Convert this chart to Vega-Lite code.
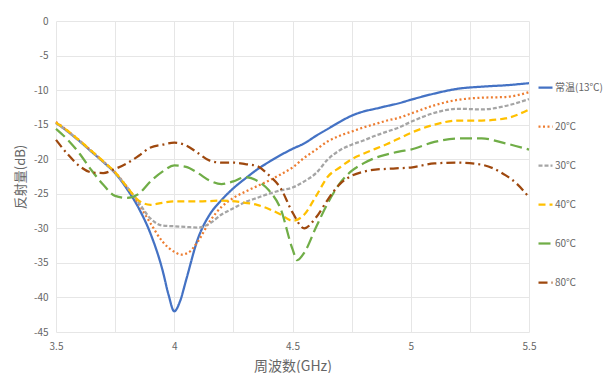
{
  "$schema": "https://vega.github.io/schema/vega-lite/v6.json",
  "autosize": "none",
  "width": 473,
  "height": 311,
  "padding": {"left": 56, "top": 21, "right": 76, "bottom": 41},
  "background": "#ffffff",
  "config": {
    "font": "Noto Sans CJK SC",
    "view": {"stroke": null},
    "axis": {"labelColor": "#666666", "titleColor": "#666666", "gridColor": "#E6E6E6", "gridWidth": 1, "domain": false, "ticks": false, "labelFontSize": 10, "titleFontSize": 14, "titleFontWeight": "normal"}
  },
  "datasets": {
    "d": [
      {"s": "常温(13℃)", "f": 3.5, "v": -14.7}, {"s": "常温(13℃)", "f": 3.55, "v": -16.0}, {"s": "常温(13℃)", "f": 3.6, "v": -17.4}, {"s": "常温(13℃)", "f": 3.65, "v": -18.9}, {"s": "常温(13℃)", "f": 3.7, "v": -20.4}, {"s": "常温(13℃)", "f": 3.75, "v": -22.0}, {"s": "常温(13℃)", "f": 3.8, "v": -24.3}, {"s": "常温(13℃)", "f": 3.85, "v": -27.1}, {"s": "常温(13℃)", "f": 3.9, "v": -30.8}, {"s": "常温(13℃)", "f": 3.95, "v": -36.0}, {"s": "常温(13℃)", "f": 3.975, "v": -39.5}, {"s": "常温(13℃)", "f": 4.0, "v": -42.0}, {"s": "常温(13℃)", "f": 4.025, "v": -40.5}, {"s": "常温(13℃)", "f": 4.05, "v": -37.5}, {"s": "常温(13℃)", "f": 4.1, "v": -31.5}, {"s": "常温(13℃)", "f": 4.15, "v": -28.0}, {"s": "常温(13℃)", "f": 4.2, "v": -25.9}, {"s": "常温(13℃)", "f": 4.25, "v": -24.2}, {"s": "常温(13℃)", "f": 4.3, "v": -22.8}, {"s": "常温(13℃)", "f": 4.35, "v": -21.5}, {"s": "常温(13℃)", "f": 4.4, "v": -20.4}, {"s": "常温(13℃)", "f": 4.45, "v": -19.4}, {"s": "常温(13℃)", "f": 4.5, "v": -18.5}, {"s": "常温(13℃)", "f": 4.55, "v": -17.7}, {"s": "常温(13℃)", "f": 4.6, "v": -16.6}, {"s": "常温(13℃)", "f": 4.65, "v": -15.6}, {"s": "常温(13℃)", "f": 4.7, "v": -14.6}, {"s": "常温(13℃)", "f": 4.75, "v": -13.7}, {"s": "常温(13℃)", "f": 4.8, "v": -13.1}, {"s": "常温(13℃)", "f": 4.85, "v": -12.7}, {"s": "常温(13℃)", "f": 4.9, "v": -12.3}, {"s": "常温(13℃)", "f": 4.95, "v": -11.9}, {"s": "常温(13℃)", "f": 5.0, "v": -11.4}, {"s": "常温(13℃)", "f": 5.1, "v": -10.5}, {"s": "常温(13℃)", "f": 5.2, "v": -9.8}, {"s": "常温(13℃)", "f": 5.3, "v": -9.5}, {"s": "常温(13℃)", "f": 5.4, "v": -9.3}, {"s": "常温(13℃)", "f": 5.5, "v": -9.0},

      {"s": "20℃", "f": 3.5, "v": -14.6}, {"s": "20℃", "f": 3.55, "v": -15.9}, {"s": "20℃", "f": 3.6, "v": -17.3}, {"s": "20℃", "f": 3.65, "v": -18.8}, {"s": "20℃", "f": 3.7, "v": -20.3}, {"s": "20℃", "f": 3.75, "v": -21.9}, {"s": "20℃", "f": 3.8, "v": -24.0}, {"s": "20℃", "f": 3.85, "v": -26.5}, {"s": "20℃", "f": 3.9, "v": -29.3}, {"s": "20℃", "f": 3.95, "v": -31.9}, {"s": "20℃", "f": 4.0, "v": -33.4}, {"s": "20℃", "f": 4.03, "v": -33.8}, {"s": "20℃", "f": 4.06, "v": -33.5}, {"s": "20℃", "f": 4.1, "v": -31.9}, {"s": "20℃", "f": 4.15, "v": -29.0}, {"s": "20℃", "f": 4.2, "v": -26.9}, {"s": "20℃", "f": 4.25, "v": -25.6}, {"s": "20℃", "f": 4.3, "v": -24.7}, {"s": "20℃", "f": 4.35, "v": -23.9}, {"s": "20℃", "f": 4.4, "v": -23.1}, {"s": "20℃", "f": 4.45, "v": -22.2}, {"s": "20℃", "f": 4.5, "v": -21.2}, {"s": "20℃", "f": 4.55, "v": -19.8}, {"s": "20℃", "f": 4.6, "v": -18.6}, {"s": "20℃", "f": 4.65, "v": -17.4}, {"s": "20℃", "f": 4.7, "v": -16.6}, {"s": "20℃", "f": 4.75, "v": -16.0}, {"s": "20℃", "f": 4.8, "v": -15.4}, {"s": "20℃", "f": 4.85, "v": -14.9}, {"s": "20℃", "f": 4.9, "v": -14.4}, {"s": "20℃", "f": 4.95, "v": -14.0}, {"s": "20℃", "f": 5.0, "v": -13.4}, {"s": "20℃", "f": 5.1, "v": -12.2}, {"s": "20℃", "f": 5.2, "v": -11.4}, {"s": "20℃", "f": 5.3, "v": -11.1}, {"s": "20℃", "f": 5.4, "v": -11.0}, {"s": "20℃", "f": 5.5, "v": -10.3},

      {"s": "30℃", "f": 3.5, "v": -14.8}, {"s": "30℃", "f": 3.55, "v": -16.0}, {"s": "30℃", "f": 3.6, "v": -17.4}, {"s": "30℃", "f": 3.65, "v": -18.9}, {"s": "30℃", "f": 3.7, "v": -20.4}, {"s": "30℃", "f": 3.75, "v": -22.0}, {"s": "30℃", "f": 3.8, "v": -24.0}, {"s": "30℃", "f": 3.85, "v": -26.3}, {"s": "30℃", "f": 3.9, "v": -28.6}, {"s": "30℃", "f": 3.95, "v": -29.6}, {"s": "30℃", "f": 4.0, "v": -29.7}, {"s": "30℃", "f": 4.05, "v": -29.8}, {"s": "30℃", "f": 4.1, "v": -29.9}, {"s": "30℃", "f": 4.15, "v": -29.3}, {"s": "30℃", "f": 4.2, "v": -28.0}, {"s": "30℃", "f": 4.25, "v": -27.1}, {"s": "30℃", "f": 4.3, "v": -26.2}, {"s": "30℃", "f": 4.35, "v": -25.6}, {"s": "30℃", "f": 4.4, "v": -25.0}, {"s": "30℃", "f": 4.45, "v": -24.5}, {"s": "30℃", "f": 4.5, "v": -24.1}, {"s": "30℃", "f": 4.55, "v": -23.2}, {"s": "30℃", "f": 4.6, "v": -22.0}, {"s": "30℃", "f": 4.65, "v": -20.0}, {"s": "30℃", "f": 4.7, "v": -18.7}, {"s": "30℃", "f": 4.75, "v": -17.9}, {"s": "30℃", "f": 4.8, "v": -17.3}, {"s": "30℃", "f": 4.85, "v": -16.6}, {"s": "30℃", "f": 4.9, "v": -16.0}, {"s": "30℃", "f": 4.95, "v": -15.4}, {"s": "30℃", "f": 5.0, "v": -14.6}, {"s": "30℃", "f": 5.1, "v": -13.3}, {"s": "30℃", "f": 5.2, "v": -12.7}, {"s": "30℃", "f": 5.3, "v": -12.8}, {"s": "30℃", "f": 5.4, "v": -12.3}, {"s": "30℃", "f": 5.5, "v": -11.3},

      {"s": "40℃", "f": 3.5, "v": -14.7}, {"s": "40℃", "f": 3.55, "v": -15.9}, {"s": "40℃", "f": 3.6, "v": -17.3}, {"s": "40℃", "f": 3.65, "v": -18.8}, {"s": "40℃", "f": 3.7, "v": -20.3}, {"s": "40℃", "f": 3.75, "v": -21.9}, {"s": "40℃", "f": 3.8, "v": -24.0}, {"s": "40℃", "f": 3.85, "v": -26.0}, {"s": "40℃", "f": 3.9, "v": -26.6}, {"s": "40℃", "f": 3.95, "v": -26.3}, {"s": "40℃", "f": 4.0, "v": -26.1}, {"s": "40℃", "f": 4.1, "v": -26.1}, {"s": "40℃", "f": 4.2, "v": -26.0}, {"s": "40℃", "f": 4.3, "v": -26.3}, {"s": "40℃", "f": 4.35, "v": -26.6}, {"s": "40℃", "f": 4.4, "v": -27.2}, {"s": "40℃", "f": 4.45, "v": -28.0}, {"s": "40℃", "f": 4.5, "v": -28.9}, {"s": "40℃", "f": 4.55, "v": -28.0}, {"s": "40℃", "f": 4.6, "v": -25.3}, {"s": "40℃", "f": 4.65, "v": -22.5}, {"s": "40℃", "f": 4.7, "v": -21.2}, {"s": "40℃", "f": 4.75, "v": -20.0}, {"s": "40℃", "f": 4.8, "v": -19.2}, {"s": "40℃", "f": 4.85, "v": -18.5}, {"s": "40℃", "f": 4.9, "v": -17.8}, {"s": "40℃", "f": 4.95, "v": -17.0}, {"s": "40℃", "f": 5.0, "v": -16.2}, {"s": "40℃", "f": 5.1, "v": -15.0}, {"s": "40℃", "f": 5.2, "v": -14.4}, {"s": "40℃", "f": 5.3, "v": -14.4}, {"s": "40℃", "f": 5.4, "v": -14.1}, {"s": "40℃", "f": 5.5, "v": -12.8},

      {"s": "60℃", "f": 3.5, "v": -15.6}, {"s": "60℃", "f": 3.55, "v": -17.2}, {"s": "60℃", "f": 3.6, "v": -19.2}, {"s": "60℃", "f": 3.65, "v": -21.6}, {"s": "60℃", "f": 3.7, "v": -23.7}, {"s": "60℃", "f": 3.75, "v": -25.3}, {"s": "60℃", "f": 3.8, "v": -25.6}, {"s": "60℃", "f": 3.85, "v": -25.0}, {"s": "60℃", "f": 3.9, "v": -23.2}, {"s": "60℃", "f": 3.95, "v": -21.8}, {"s": "60℃", "f": 4.0, "v": -20.9}, {"s": "60℃", "f": 4.05, "v": -21.1}, {"s": "60℃", "f": 4.1, "v": -22.0}, {"s": "60℃", "f": 4.15, "v": -23.1}, {"s": "60℃", "f": 4.2, "v": -23.6}, {"s": "60℃", "f": 4.25, "v": -23.2}, {"s": "60℃", "f": 4.3, "v": -22.6}, {"s": "60℃", "f": 4.35, "v": -23.1}, {"s": "60℃", "f": 4.4, "v": -24.5}, {"s": "60℃", "f": 4.45, "v": -27.2}, {"s": "60℃", "f": 4.5, "v": -33.0}, {"s": "60℃", "f": 4.52, "v": -34.6}, {"s": "60℃", "f": 4.55, "v": -33.5}, {"s": "60℃", "f": 4.6, "v": -29.8}, {"s": "60℃", "f": 4.65, "v": -26.3}, {"s": "60℃", "f": 4.7, "v": -23.5}, {"s": "60℃", "f": 4.75, "v": -21.7}, {"s": "60℃", "f": 4.8, "v": -20.6}, {"s": "60℃", "f": 4.85, "v": -19.8}, {"s": "60℃", "f": 4.9, "v": -19.3}, {"s": "60℃", "f": 4.95, "v": -18.9}, {"s": "60℃", "f": 5.0, "v": -18.6}, {"s": "60℃", "f": 5.1, "v": -17.5}, {"s": "60℃", "f": 5.2, "v": -17.0}, {"s": "60℃", "f": 5.3, "v": -17.0}, {"s": "60℃", "f": 5.4, "v": -17.7}, {"s": "60℃", "f": 5.5, "v": -18.6},

      {"s": "80℃", "f": 3.5, "v": -17.2}, {"s": "80℃", "f": 3.55, "v": -19.3}, {"s": "80℃", "f": 3.6, "v": -21.0}, {"s": "80℃", "f": 3.65, "v": -21.9}, {"s": "80℃", "f": 3.7, "v": -22.0}, {"s": "80℃", "f": 3.75, "v": -21.4}, {"s": "80℃", "f": 3.8, "v": -20.6}, {"s": "80℃", "f": 3.85, "v": -19.5}, {"s": "80℃", "f": 3.9, "v": -18.3}, {"s": "80℃", "f": 3.95, "v": -17.9}, {"s": "80℃", "f": 4.0, "v": -17.6}, {"s": "80℃", "f": 4.05, "v": -18.0}, {"s": "80℃", "f": 4.1, "v": -19.1}, {"s": "80℃", "f": 4.15, "v": -20.2}, {"s": "80℃", "f": 4.2, "v": -20.5}, {"s": "80℃", "f": 4.25, "v": -20.5}, {"s": "80℃", "f": 4.3, "v": -20.7}, {"s": "80℃", "f": 4.35, "v": -21.0}, {"s": "80℃", "f": 4.4, "v": -22.3}, {"s": "80℃", "f": 4.45, "v": -24.2}, {"s": "80℃", "f": 4.5, "v": -27.7}, {"s": "80℃", "f": 4.55, "v": -30.0}, {"s": "80℃", "f": 4.6, "v": -28.4}, {"s": "80℃", "f": 4.65, "v": -25.8}, {"s": "80℃", "f": 4.7, "v": -23.6}, {"s": "80℃", "f": 4.75, "v": -22.4}, {"s": "80℃", "f": 4.8, "v": -21.8}, {"s": "80℃", "f": 4.85, "v": -21.5}, {"s": "80℃", "f": 4.9, "v": -21.4}, {"s": "80℃", "f": 4.95, "v": -21.3}, {"s": "80℃", "f": 5.0, "v": -21.2}, {"s": "80℃", "f": 5.1, "v": -20.6}, {"s": "80℃", "f": 5.2, "v": -20.5}, {"s": "80℃", "f": 5.3, "v": -20.8}, {"s": "80℃", "f": 5.4, "v": -22.3}, {"s": "80℃", "f": 5.45, "v": -23.6}, {"s": "80℃", "f": 5.5, "v": -25.5}
    ]
  },
  "data": {"name": "d"},
  "mark": {"type": "line", "interpolate": "monotone", "strokeWidth": 2.25},
  "encoding": {
    "x": {"field": "f", "type": "quantitative", "scale": {"domain": [3.5, 5.5], "nice": false, "zero": false},
      "axis": {"values": [3.5, 3.75, 4, 4.25, 4.5, 4.75, 5, 5.25, 5.5], "labelExpr": "(datum.value * 2) % 1 == 0 ? toString(datum.value) : ''", "labelFlush": false, "title": "周波数(GHz)", "labelPadding": 9, "titlePadding": 8}},
    "y": {"field": "v", "type": "quantitative", "scale": {"domain": [-45, 0], "nice": false},
      "axis": {"values": [-45, -40, -35, -30, -25, -20, -15, -10, -5, 0], "labelExpr": "toString(datum.value)", "title": "反射量(dB)", "titleFontSize": 13, "labelPadding": 8, "titlePadding": 6}},
    "color": {"field": "s", "type": "nominal", "sort": null,
      "scale": {"domain": ["常温(13℃)", "20℃", "30℃", "40℃", "60℃", "80℃"], "range": ["#4472C4", "#ED7D31", "#A5A5A5", "#FFC000", "#70AD47", "#9E480E"]},
      "legend": {"title": null, "orient": "none", "legendX": 481, "legendY": 58, "symbolType": "stroke", "symbolSize": 196, "symbolStrokeWidth": 2.25, "labelFontSize": 10, "labelColor": "#666666", "rowPadding": 25, "labelOffset": 1, "labelLimit": 80}},
    "strokeDash": {"field": "s", "type": "nominal", "sort": null,
      "scale": {"domain": ["常温(13℃)", "20℃", "30℃", "40℃", "60℃", "80℃"], "range": [[1, 0], [2, 2.5], [4, 2], [7, 4], [12, 5], [9, 4, 2, 4]]},
      "legend": {"title": null, "orient": "none", "legendX": 481, "legendY": 58, "symbolType": "stroke", "symbolSize": 196, "symbolStrokeWidth": 2.25, "labelFontSize": 10, "labelColor": "#666666", "rowPadding": 25, "labelOffset": 1, "labelLimit": 80}}
  }
}
